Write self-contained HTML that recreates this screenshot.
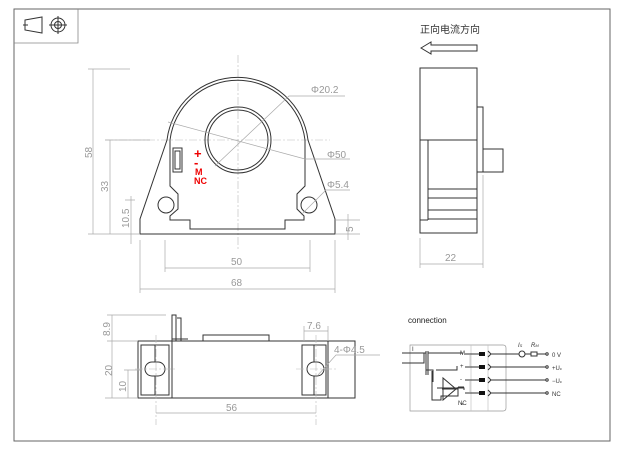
<!DOCTYPE html>
<html><head><meta charset="utf-8"><style>
html,body{margin:0;padding:0;background:#fff;width:629px;height:462px;overflow:hidden}
svg{display:block}
.k{stroke:#333;fill:none;stroke-width:1}
.g{stroke:#aaa;fill:none;stroke-width:0.7}
.c{stroke:#bbb;fill:none;stroke-width:0.6;stroke-dasharray:8 2 2 2}
.t{font-family:"Liberation Sans",sans-serif;fill:#999;font-size:10px}
.s{font-family:"Liberation Sans",sans-serif;fill:#333;font-size:6px}
</style></head><body>
<svg width="629" height="462" viewBox="0 0 629 462">
<rect x="14" y="9" width="596" height="432" fill="none" stroke="#666" stroke-width="1"/>
<path d="M14 43H78V9" fill="none" stroke="#888" stroke-width="0.8"/>
<path class="k" d="M25 20L42 17V33L25 30Z M23 25H28" stroke-width="0.8"/>
<circle class="k" cx="58" cy="25" r="7" stroke-width="0.8"/><circle class="k" cx="58" cy="25" r="3.5" stroke-width="0.8"/><path class="k" d="M49 25H67M58 16V34" stroke-width="0.6"/>

<!-- front view -->
<path class="c" d="M238 55V250 M105 140H330"/>
<path class="k" d="M167 140A71 71 0 0 1 308 140L335 219V234H140V219Z"/>
<path class="k" d="M170 140A68 68 0 0 1 305 140V186L297 194V209L304 216V220H285V229H190V220H170V216L178 209V194L170 186Z"/>
<circle class="k" cx="238" cy="140" r="33" stroke-width="1.2"/>
<circle class="k" cx="238" cy="140" r="30"/>
<circle class="k" cx="166" cy="205" r="8"/>
<circle class="k" cx="309" cy="205" r="8"/>
<rect class="k" x="173" y="148" width="9" height="24"/>
<rect class="k" x="175" y="151" width="5" height="18" stroke-width="0.6"/>
<text x="194" y="158" font-family="Liberation Sans,sans-serif" font-size="13" font-weight="bold" fill="#e00">+</text>
<text x="194" y="167" font-family="Liberation Sans,sans-serif" font-size="13" font-weight="bold" fill="#e00">-</text>
<text x="195" y="175" font-family="Liberation Sans,sans-serif" font-size="9" font-weight="bold" fill="#e00">M</text>
<text x="194" y="184" font-family="Liberation Sans,sans-serif" font-size="9" font-weight="bold" fill="#e00">NC</text>
<path class="g" d="M215 166L289 96H345 M168 122L305 159H350 M301 215L326 190H350"/>
<text class="t" x="311" y="93">Φ20.2</text>
<text class="t" x="327" y="158">Φ50</text>
<text class="t" x="327" y="188">Φ5.4</text>
<path class="g" d="M88 69H130M93 69V234 M105 140H150M110 140V234 M125 200H135M131 196V244 M88 234H140 M336 220H360M348 214V240 M336 234H360"/>
<text class="t" transform="translate(92,158) rotate(-90)">58</text>
<text class="t" transform="translate(108,192) rotate(-90)">33</text>
<text class="t" transform="translate(129,228) rotate(-90)">10.5</text>
<text class="t" transform="translate(353,232) rotate(-90)">5</text>
<path class="g" d="M165 240V272M310 240V272M165 268H310 M140 240V293M335 240V293M140 289H335"/>
<text class="t" x="231" y="265">50</text>
<text class="t" x="231" y="286">68</text>

<!-- side view -->
<text x="420" y="33" font-family="'Liberation Sans','Noto Sans CJK SC',sans-serif" font-size="10" fill="#333">正向电流方向</text>
<path class="k" d="M421 48L431 42V45H477V51H431V54Z"/>
<rect class="k" x="420" y="68" width="57" height="165"/>
<path class="k" d="M420 140H477 M428 140V220 M428 189H477M428 198H477M428 210H477M428 219H477 M420 220H428"/>
<path class="k" d="M477 107H483V172H477 M483 149H503V172H483"/>
<path class="g" d="M420 238V268M483 175V268M420 264H483"/>
<text class="t" x="445" y="261">22</text>

<!-- bottom view -->
<rect class="k" x="138" y="341" width="217" height="57"/>
<path class="k" d="M172 341V398M328 341V398 M203 341V335H269V341 M172 341V315H176V341M177 318H181V341 M172 339H188"/>
<rect class="k" x="141" y="345" width="28" height="50"/>
<rect class="k" x="302" y="345" width="24" height="50"/>
<rect class="k" x="145" y="362" width="20" height="14" rx="7"/>
<rect class="k" x="307" y="362" width="17" height="14" rx="7"/>
<path class="k" d="M155 345V362M155 376V395 M314 345V362M314 376V395" stroke-width="0.6"/>
<path class="c" d="M156 335V425M316 335V425 M135 369H175M296 369H338"/>
<path class="g" d="M107 315H166M112 315V398M107 341H138M105 398H138M124 370H140M128 370V398"/>
<text class="t" transform="translate(110,336) rotate(-90)">8.9</text>
<text class="t" transform="translate(112,376) rotate(-90)">20</text>
<text class="t" transform="translate(126,392) rotate(-90)">10</text>
<path class="g" d="M156 413H316M304 326V341M328 326V341M304 331H328 M318 375L336 355H380"/>
<text class="t" x="226" y="411">56</text>
<text class="t" x="307" y="329">7.6</text>
<text class="t" x="334" y="353">4-Φ4.5</text>

<!-- connection -->
<text x="408" y="323" font-family="Liberation Sans,sans-serif" font-size="8" fill="#222">connection</text>
<path d="M410 345H503Q506 345 506 348V408Q506 411 503 411H410Z" fill="none" stroke="#999" stroke-width="0.7"/>
<path d="M471 345V411M488 345V411" stroke="#bbb" stroke-width="0.6"/>
<path class="k" stroke-width="0.6" d="M402 353H426 M402 363H424V353 M426 351V375M428 351V375 M428 353H463 M436 370H457V366 M426 370H433V382 M432 371V400H441V396H458V387 M443 378V400L456 389Z M442 389H458 M437 388H464V390 M458 387H464 M461 404H463"/>
<text class="s" x="412" y="351">I</text>
<text class="s" x="460" y="355" font-size="4">M</text>
<text class="s" x="460" y="368" font-size="5">+</text>
<text class="s" x="460" y="381" font-size="5">-</text>
<text class="s" x="458" y="405" font-size="4">NC</text>
<path class="k" stroke-width="0.6" d="M465 354H483M465 367H483M465 380H483M465 393H483"/>
<path d="M470 354V367M470 380V393" stroke="#999" stroke-width="0.5"/>
<rect x="479" y="352" width="6" height="4" fill="#111"/><rect x="479" y="365" width="6" height="4" fill="#111"/><rect x="479" y="378" width="6" height="4" fill="#111"/><rect x="479" y="391" width="6" height="4" fill="#111"/>
<path class="k" stroke-width="0.6" d="M488 351l3 3-3 3M488 364l3 3-3 3M488 377l3 3-3 3M488 390l3 3-3 3 M491 354H519M491 367H546M491 380H546M491 393H546 M525 354H531M537 354H546"/>
<circle class="k" stroke-width="0.6" cx="522" cy="354" r="3"/>
<rect class="k" stroke-width="0.6" x="531" y="352" width="6" height="4"/>
<circle class="k" stroke-width="0.6" cx="547" cy="354" r="1.2"/><circle class="k" stroke-width="0.6" cx="547" cy="367" r="1.2"/><circle class="k" stroke-width="0.6" cx="547" cy="380" r="1.2"/><circle class="k" stroke-width="0.6" cx="547" cy="393" r="1.2"/>
<text class="s" x="518" y="347" font-size="7" font-style="italic">I<tspan font-size="4">S</tspan></text>
<text class="s" x="531" y="347" font-size="7" font-style="italic">R<tspan font-size="4">M</tspan></text>
<text class="s" x="552" y="357" font-size="8">0 V</text>
<text class="s" x="552" y="370" font-size="7">+U<tspan font-size="4">c</tspan></text>
<text class="s" x="552" y="383" font-size="7">−U<tspan font-size="4">c</tspan></text>
<text class="s" x="552" y="396" font-size="7">NC</text>
</svg>
</body></html>
